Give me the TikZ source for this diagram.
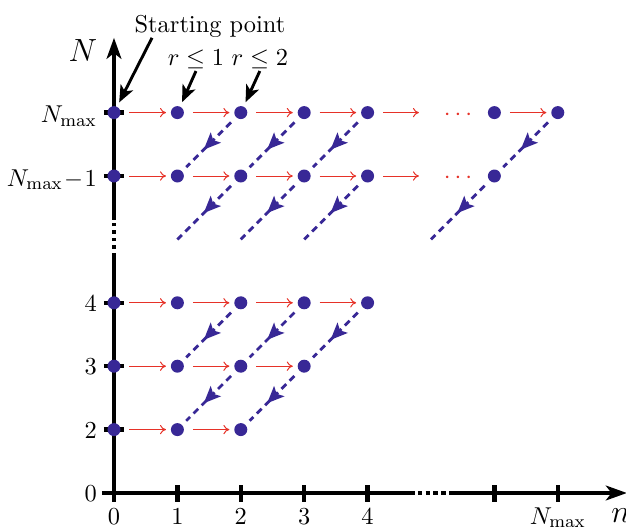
\documentclass[tikz,border=0pt]{standalone}
\usetikzlibrary{arrows.meta,decorations.markings,calc}
\definecolor{dotblue}{RGB}{56,40,150}
\definecolor{arrred}{RGB}{230,50,40}
\begin{document}
\begin{tikzpicture}[x=1cm,y=1cm,
  lbl/.style={font=\fontsize{10.95}{13}\selectfont,inner sep=0pt},
  biglbl/.style={font=\Large,inner sep=0pt},
  dot/.style={circle,fill=dotblue,inner sep=0pt,minimum size=0.205cm},
  redarr/.style={arrred,line width=0.45pt,shorten <=3.8pt,shorten >=2pt,-{To[length=2.7pt,width=4.2pt]}},
  bluedash/.style={dotblue,line width=1.25pt,dash pattern=on 3pt off 2.2pt,
    shorten <=3.1pt,shorten >=2.5pt,
    postaction={decorate},
    decoration={markings,mark=at position 20.4pt with {\arrow{Stealth[length=7.6pt,width=6.4pt,inset=1.6pt]}}}},
  axisline/.style={black,line width=1.9pt},
  axisdots/.style={black,line width=1.9pt,dash pattern=on 2pt off 1.5pt},
  axisvdots/.style={black,line width=1.9pt,dash pattern=on 1.5pt off 1.8pt},
  axisarrow/.style={-{Stealth[length=9.4pt,width=6.6pt,inset=2.5pt]}},
  annot/.style={black,line width=1.3pt,shorten >=2pt,-{Stealth[length=7.6pt,width=6.2pt,inset=2pt]}}
]
\useasboundingbox (-1.798,-0.5205) rectangle (8.076,7.776);

% axes
\coordinate (ya) at (0,-0.14);
\coordinate (yb) at (0,3.74);
\coordinate (yc) at (0,4.31);
\coordinate (yd) at (0,7.18);
\coordinate (xa) at (-0.19,0);
\coordinate (xb) at (4.67,0);
\coordinate (xc) at (5.32,0);
\coordinate (xd) at (8.09,0);
\draw[axisline] (ya) -- (yb);
\draw[axisvdots] (yb) -- (yc);
\draw[axisline,axisarrow] (yc) -- (yd);
\draw[axisline] (xa) -- (xb);
\draw[axisdots] (xb) -- (xc);
\draw[axisline,axisarrow] (xc) -- (xd);

% ticks
\foreach \y in {1,2,3,5,6} \draw[axisline] (-0.16,\y) -- (0.16,\y);
\foreach \x in {1,2,3,4,6,7} \draw[axisline] (\x,-0.14) -- (\x,0.13);

% axis labels
\node[biglbl,anchor=base] (lN) at (-0.49,6.80) {$N$};
\node[biglbl,anchor=base west] (ln) at (7.84,-0.46) {$n$};

% y tick labels
\node[lbl,anchor=base east] (ly6) at (-0.265,5.84) {$N_{\max}$};
\node[lbl,anchor=base east] (ly5) at (-0.265,4.84) {$N_{\max}\!-\!1$};
\node[lbl,anchor=base east] (ly3) at (-0.265,2.865) {$4$};
\node[lbl,anchor=base east] (ly2) at (-0.265,1.865) {$3$};
\node[lbl,anchor=base east] (ly1) at (-0.265,0.865) {$2$};
\node[lbl,anchor=base east] (ly0) at (-0.265,-0.135) {$0$};

% x tick labels
\foreach \x in {0,1,2,3,4} \node[lbl,anchor=base] (lx\x) at (\x,-0.49) {$\x$};
\node[lbl,anchor=base] (lx7) at (7,-0.49) {$N_{\max}$};

% dots
\foreach \y/\xs in {6/{0,1,2,3,4,6,7},5/{0,1,2,3,4,6},3/{0,1,2,3,4},2/{0,1,2,3},1/{0,1,2}}{
  \foreach \x in \xs {\node[dot] (d-\x-\y) at (\x,\y) {};}
}

% red arrows
\foreach \a/\b/\y in {0/1/6,1/2/6,2/3/6,3/4/6,6/7/6,
                      0/1/5,1/2/5,2/3/5,3/4/5,
                      0/1/3,1/2/3,2/3/3,3/4/3,
                      0/1/2,1/2/2,2/3/2,
                      0/1/1,1/2/1}
  \draw[redarr] (d-\a-\y) -- (d-\b-\y);
\coordinate (e6) at (4.88,6);
\coordinate (e5) at (4.88,5);
\draw[redarr] (d-4-6) -- (e6);
\draw[redarr] (d-4-5) -- (e5);
\node[lbl,anchor=base,text=arrred] (c6) at (5.426,5.883) {$\cdots$};
\node[lbl,anchor=base,text=arrred] (c5) at (5.426,4.883) {$\cdots$};

% blue dashed diagonals
\foreach \a/\ya/\b/\yb in {2/6/1/5,3/6/2/5,4/6/3/5,7/6/6/5,
                          2/3/1/2,3/3/2/2,4/3/3/2,
                          2/2/1/1,3/2/2/1}
  \draw[bluedash] (d-\a-\ya) -- (d-\b-\yb);
\foreach \b in {1,2,3,5} \coordinate (g-\b) at (\b,4);
\foreach \a/\b in {2/1,3/2,4/3,6/5}
  \draw[bluedash,shorten >=0pt] (d-\a-5) -- (g-\b);

% annotations
\node[lbl,anchor=base] (sp) at (1.514,7.27) {Starting point};
\coordinate (spa) at (0.60,7.18);
\draw[annot] (spa) -- (d-0-6);
\node[lbl,anchor=base,inner sep=1pt] (r1) at (1.293,6.75) {$r\le 1$};
\node[lbl,anchor=base,inner sep=1pt] (r2) at (2.30,6.75) {$r\le 2$};
\draw[annot] (r1.south) -- (d-1-6);
\draw[annot] (r2.south) -- (d-2-6);
\end{tikzpicture}
\end{document}
